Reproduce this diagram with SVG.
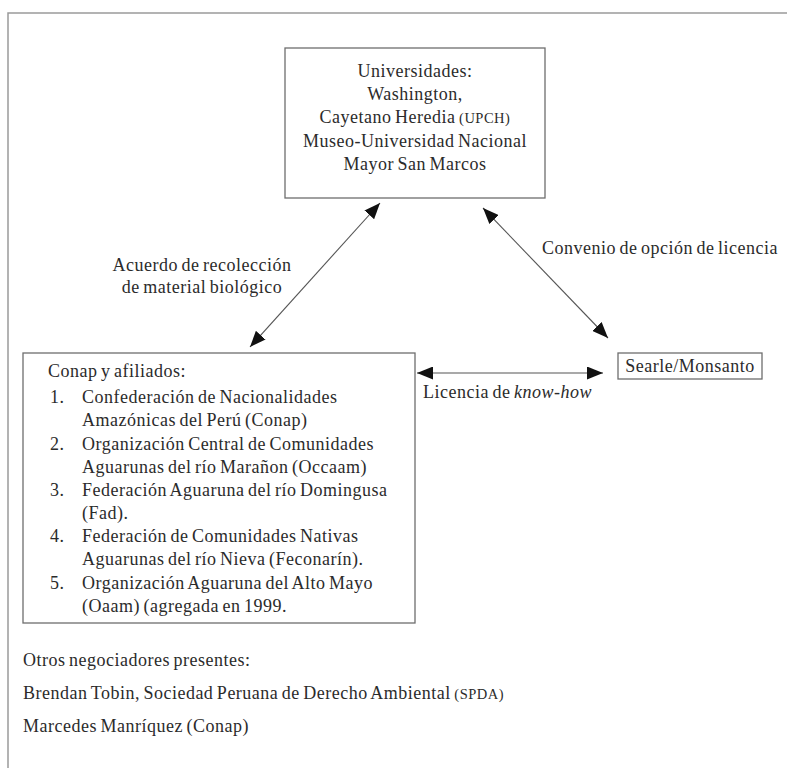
<svg xmlns="http://www.w3.org/2000/svg" width="787" height="768" viewBox="0 0 787 768">
<defs>
<style>
text{font-family:"Liberation Serif","Times New Roman",serif;font-size:18px;fill:#2b2b2b;letter-spacing:0.5px;word-spacing:-1.5px}
.c{text-anchor:middle}
.sc{font-size:14.5px}
.box{fill:#fff;stroke:#6e6e6e;stroke-width:1.3}
.frame{fill:none;stroke:#9a9a9a;stroke-width:1.5}
.conn{stroke:#555;stroke-width:1.1;fill:none;marker-start:url(#ah);marker-end:url(#ah)}
</style>
<marker id="ah" markerUnits="userSpaceOnUse" markerWidth="17" markerHeight="13" refX="16" refY="6.5" orient="auto-start-reverse" viewBox="0 0 17 13">
<path d="M0,0 L16,6.5 L0,13 z" fill="#111"/>
</marker>
</defs>
<rect width="787" height="768" fill="#fff"/>
<path class="frame" d="M8,790 L8,13 L800,13"/>

<g id="universidades">
<rect class="box" x="285" y="48" width="260" height="150"/>
<text class="c" x="415" y="77">Universidades:</text>
<text class="c" x="415" y="100">Washington,</text>
<text class="c" x="415" y="123">Cayetano Heredia <tspan class="sc">(UPCH)</tspan></text>
<text class="c" x="415" y="147">Museo-Universidad Nacional</text>
<text class="c" x="415" y="170">Mayor San Marcos</text>
</g>

<g id="conap">
<rect class="box" x="23" y="353" width="392" height="270"/>
<text x="48" y="377">Conap y afiliados:</text>
<text x="50" y="403">1.</text>
<text x="82" y="403">Confederación de Nacionalidades</text>
<text x="82" y="426">Amazónicas del Perú (Conap)</text>
<text x="50" y="450">2.</text>
<text x="82" y="450">Organización Central de Comunidades</text>
<text x="82" y="473">Aguarunas del río Marañon (Occaam)</text>
<text x="50" y="496">3.</text>
<text x="82" y="496">Federación Aguaruna del río Domingusa</text>
<text x="82" y="519">(Fad).</text>
<text x="50" y="542">4.</text>
<text x="82" y="542">Federación de Comunidades Nativas</text>
<text x="82" y="565">Aguarunas del río Nieva (Feconarín).</text>
<text x="50" y="589">5.</text>
<text x="82" y="589">Organización Aguaruna del Alto Mayo</text>
<text x="82" y="612">(Oaam) (agregada en 1999.</text>
</g>

<g id="searle">
<rect class="box" x="618" y="353" width="144" height="26"/>
<text class="c" x="690" y="372">Searle/Monsanto</text>
</g>

<g id="connectors">
<line class="conn" x1="380" y1="203" x2="250" y2="347"/>
<line class="conn" x1="483" y1="208" x2="608" y2="338"/>
<line class="conn" x1="417" y1="373" x2="603" y2="373"/>
<text class="c" x="202" y="271">Acuerdo de recolección</text>
<text class="c" x="202" y="293">de material biológico</text>
<text x="542" y="254">Convenio de opción de licencia</text>
<text x="423" y="398">Licencia de <tspan font-style="italic">know-how</tspan></text>
</g>

<g id="otros">
<text x="23" y="666">Otros negociadores presentes:</text>
<text x="23" y="699">Brendan Tobin, Sociedad Peruana de Derecho Ambiental <tspan class="sc">(SPDA)</tspan></text>
<text x="23" y="732">Marcedes Manríquez (Conap)</text>
</g>
</svg>
